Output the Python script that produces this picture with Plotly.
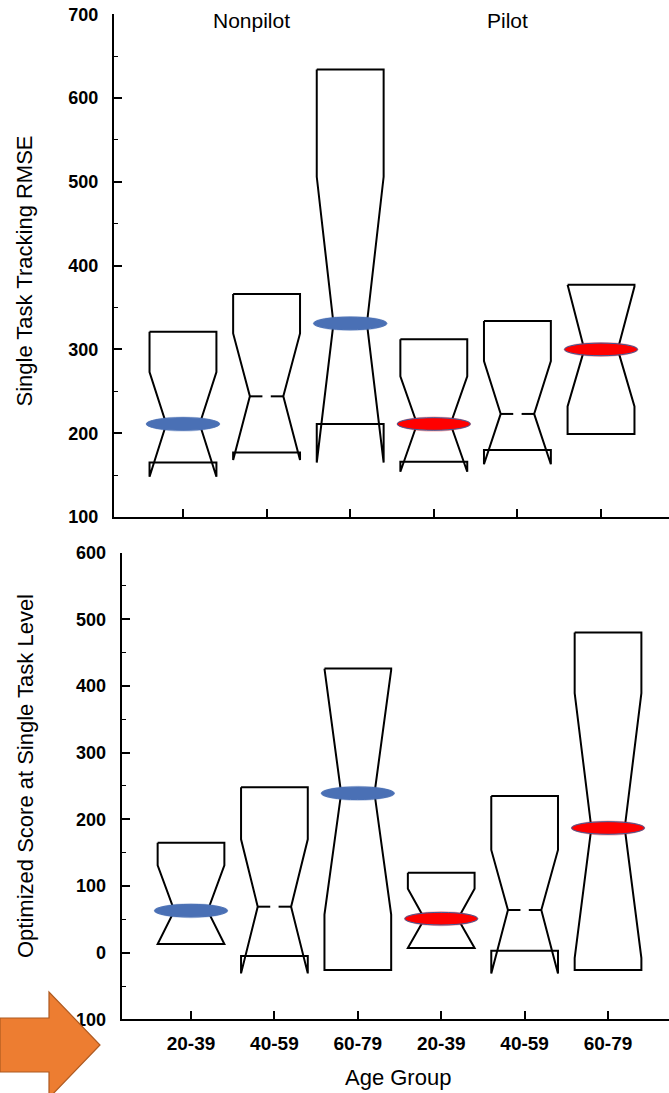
import plotly.graph_objects as go

# ---------------- data ----------------
age_groups = ["20-39", "40-59", "60-79", "20-39", "40-59", "60-79"]
group_names = ["Nonpilot", "Pilot"]
is_pilot = [False, False, False, True, True, True]
highlight = [True, False, True, True, False, True]   # median marked with an ellipse

# Panel 1: Single Task Tracking RMSE
rmse_q3 = [321, 366, 634, 312, 334, 377]
rmse_notch_hi = [273, 319, 506, 268, 286, 375]
rmse_median = [211, 244, 331, 211, 223, 300]
rmse_notch_lo = [148, 168, 165, 154, 163, 232]
rmse_q1 = [165, 177, 211, 166, 180, 199]

# Panel 2: Optimized Score at Single Task Level
score_q3 = [165, 248, 426, 120, 235, 480]
score_notch_hi = [131, 170, 424, 96, 154, 389]
score_median = [63, 69, 239, 51, 64, 187]
score_notch_lo = [13, -31, 57, 7, -31, -8]
score_q1 = [13, -5, -26, 7, 3, -26]

# ---------------- style ----------------
W, H = 669, 1093
BOX_HALF = 0.40
NOTCH_HALF = 0.20
MED_GAP = 0.05
ELL_HALF = 0.437
BLUE = "#4a70b5"
RED = "#ff0000"
FONT = "Liberation Sans, Arial, Helvetica, sans-serif"

fig = go.Figure()


def box_traces(q3, nh, med, nl, q1, xa, ya):
    xs, ys, mx, my = [], [], [], []
    for i in range(len(q3)):
        c = i
        pts = [(c - BOX_HALF, q3[i]), (c + BOX_HALF, q3[i]),
               (c + BOX_HALF, nh[i]), (c + NOTCH_HALF, med[i]), (c + BOX_HALF, nl[i]),
               (c + BOX_HALF, q1[i]), (c - BOX_HALF, q1[i]),
               (c - BOX_HALF, nl[i]), (c - NOTCH_HALF, med[i]), (c - BOX_HALF, nh[i]),
               (c - BOX_HALF, q3[i])]
        for px, py in pts:
            xs.append(px)
            ys.append(py)
        xs.append(None)
        ys.append(None)
        # median line with a small gap in the centre
        mx += [c - NOTCH_HALF, c - MED_GAP, None, c + MED_GAP, c + NOTCH_HALF, None]
        my += [med[i], med[i], None, med[i], med[i], None]
    fig.add_trace(go.Scatter(x=xs, y=ys, mode="lines", xaxis=xa, yaxis=ya,
                             line=dict(color="black", width=2), hoverinfo="skip",
                             showlegend=False))
    fig.add_trace(go.Scatter(x=mx, y=my, mode="lines", xaxis=xa, yaxis=ya,
                             line=dict(color="black", width=2), hoverinfo="skip",
                             showlegend=False))


box_traces(rmse_q3, rmse_notch_hi, rmse_median, rmse_notch_lo, rmse_q1, "x", "y")
box_traces(score_q3, score_notch_hi, score_median, score_notch_lo, score_q1, "x2", "y2")

shapes = []
for med, xr, yr in [(rmse_median, "x", "y"), (score_median, "x2", "y2")]:
    for i, m in enumerate(med):
        if not highlight[i]:
            continue
        fill = RED if is_pilot[i] else BLUE
        edge = "#3d5b9a" if is_pilot[i] else BLUE
        # soft halo
        shapes.append(dict(type="circle", xref=xr, yref=yr, x0=i - ELL_HALF - 0.01,
                           x1=i + ELL_HALF + 0.01, ysizemode="pixel", yanchor=m,
                           y0=-7.5, y1=7.5, fillcolor=fill, opacity=0.35,
                           line=dict(width=0), layer="above"))
        shapes.append(dict(type="circle", xref=xr, yref=yr, x0=i - ELL_HALF,
                           x1=i + ELL_HALF, ysizemode="pixel", yanchor=m,
                           y0=-6.3, y1=6.3, fillcolor=fill,
                           line=dict(color=edge, width=1), layer="above"))

# orange block arrow (page decoration), pixel positions converted to paper
arrow_px = [(0, 1018), (49, 1018), (49, 992), (100, 1045), (49, 1098), (49, 1072), (0, 1072)]
path = "M " + " L ".join(f"{px / W:.5f},{1 - py / H:.5f}" for px, py in arrow_px) + " Z"
shapes.append(dict(type="path", xref="paper", yref="paper", path=path,
                   fillcolor="#ed7d31", line=dict(color="#ae5a21", width=1.2),
                   layer="above"))

tick_pos = list(range(len(age_groups)))

common_y = dict(showgrid=False, zeroline=False, showline=True, linecolor="black",
                linewidth=2, ticks="inside", ticklen=8, tickwidth=1.6, tickcolor="black",
                dtick=100, tick0=0, automargin=False, ticklabelstandoff=10,
                tickfont=dict(family=FONT, size=18, color="black", weight="bold"),
                minor=dict(dtick=50, tick0=0, ticks="inside", ticklen=4, tickwidth=1.2,
                           tickcolor="black"))
common_x = dict(showgrid=False, zeroline=False, showline=True, linecolor="black",
                linewidth=2, ticks="inside", ticklen=8, tickwidth=1.6, tickcolor="black",
                tickvals=tick_pos, ticktext=age_groups, automargin=False,
                tickfont=dict(family=FONT, size=19, color="black", weight="bold"))

fig.update_layout(
    template="none",
    width=W, height=H,
    margin=dict(l=0, r=0, t=0, b=0),
    paper_bgcolor="white", plot_bgcolor="white",
    showlegend=False,
    xaxis=dict(common_x, domain=[114 / W, 1], range=[-0.825, 5.813], anchor="y",
               showticklabels=False),
    yaxis=dict(common_y, domain=[1 - 517 / H, 1 - 14.2 / H], range=[100, 700], anchor="x"),
    xaxis2=dict(common_x, domain=[121.7 / W, 1], range=[-0.831, 5.731], anchor="y2",
                ticklabelstandoff=6),
    yaxis2=dict(common_y, domain=[1 - 1019.4 / H, 1 - 552.5 / H], range=[-100, 600],
                anchor="x2"),
    shapes=shapes,
    annotations=[
        dict(text="Single Task Tracking RMSE", xref="paper", yref="paper",
             x=24 / W, y=1 - 271.5 / H, textangle=-90, showarrow=False,
             font=dict(family=FONT, size=22, color="black"), xanchor="center", yanchor="middle"),
        dict(text="Optimized Score at Single Task Level", xref="paper", yref="paper",
             x=25 / W, y=1 - 776 / H, textangle=-90, showarrow=False,
             font=dict(family=FONT, size=22, color="black"), xanchor="center", yanchor="middle"),
        dict(text=group_names[0], xref="paper", yref="paper", x=251 / W, y=1 - 20 / H,
             showarrow=False, font=dict(family=FONT, size=21, color="black"),
             xanchor="center", yanchor="middle"),
        dict(text=group_names[1], xref="paper", yref="paper", x=507 / W, y=1 - 20 / H,
             showarrow=False, font=dict(family=FONT, size=21, color="black"),
             xanchor="center", yanchor="middle"),
        dict(text="Age Group", xref="paper", yref="paper", x=398 / W, y=1 - 1077 / H,
             showarrow=False, font=dict(family=FONT, size=22, color="black"),
             xanchor="center", yanchor="middle"),
    ],
)

fig.write_html("out.html", include_plotlyjs=True, config={"displayModeBar": False},
               post_script="document.body.style.margin='0';document.body.style.overflow='hidden';")
